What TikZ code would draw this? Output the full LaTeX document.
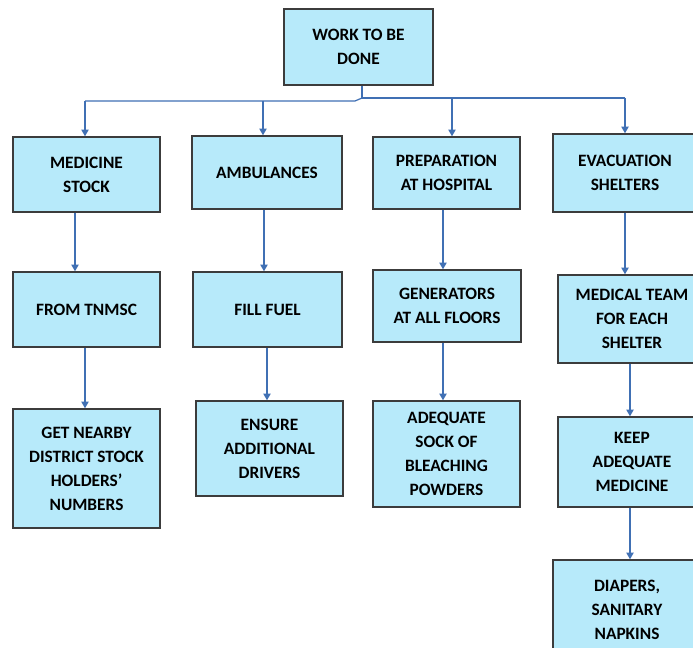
\documentclass[tikz,border=0pt]{standalone}
\usepackage{fontspec}
\setmainfont{Carlito}
\usetikzlibrary{arrows.meta}
\definecolor{boxfill}{RGB}{183,234,250}
\definecolor{boxline}{RGB}{60,60,60}
\definecolor{arrowc}{RGB}{64,112,180}
\newcommand\boxnode[6]{\node[box,minimum width={(#4-#2)*0.75pt},minimum height={(#5-#3)*0.75pt}] (#1) at ({(#2+#4)/2},{(#3+#5)/2}) {#6};}
\begin{document}
\begin{tikzpicture}[x=0.75pt,y=-0.75pt,
  box/.style={draw=boxline,fill=boxfill,line width=1.1pt,align=center,inner sep=0pt,
    font=\fontsize{13}{18}\selectfont\bfseries},
  conn/.style={draw=arrowc,line width=0.9pt},
  arr/.style={conn,-{Triangle[width=5.5pt,length=5pt]}}]
\clip (0,0) rectangle (693,648);
\fill[white] (0,0) rectangle (693,648);
% boxes
\boxnode{top}{284}{9}{433}{85}{WORK TO BE\\DONE}
\boxnode{ms}{13}{137}{160}{212}{MEDICINE\\STOCK}
\boxnode{amb}{192}{136}{342}{209}{AMBULANCES}
\boxnode{prep}{373}{137}{520}{209}{PREPARATION\\AT HOSPITAL}
\boxnode{evac}{553}{134}{697}{212}{EVACUATION\\SHELTERS}
\boxnode{tnmsc}{13}{272}{160}{347}{FROM TNMSC}
\boxnode{fuel}{193}{272}{342}{347}{FILL FUEL}
\boxnode{gen}{373}{270}{521}{342}{GENERATORS\\AT ALL FLOORS}
\boxnode{med}{558}{275}{706}{363}{MEDICAL TEAM\\FOR EACH\\SHELTER}
\boxnode{near}{13}{409}{160}{528}{GET NEARBY\\DISTRICT STOCK\\HOLDERS’\\NUMBERS}
\boxnode{drv}{196}{401}{343}{496}{ENSURE\\ADDITIONAL\\DRIVERS}
\boxnode{bleach}{373}{401}{520}{507}{ADEQUATE\\SOCK OF\\BLEACHING\\POWDERS}
\boxnode{keep}{558}{417}{706}{507}{KEEP\\ADEQUATE\\MEDICINE}
\boxnode{diap}{553}{560}{701}{660}{DIAPERS,\\SANITARY\\NAPKINS}
% bus from top box
\coordinate (bus) at (362,98);
\coordinate (busl) at (355,101);
\draw[conn] (top.south -| bus) -- (bus) -- (bus -| 625,0);
\draw[conn] (bus) -- (busl) -- (busl -| 85,0);
\draw[arr] (busl -| 85,0) -- (85,0 |- ms.north);
\draw[arr] (busl -| 263,0) -- (263,0 |- amb.north);
\draw[arr] (bus -| 452,0) -- (452,0 |- prep.north);
\draw[arr] (bus -| 625,0) -- (625,0 |- evac.north);
% column arrows
\draw[arr] (75,0 |- ms.south) -- (75,0 |- tnmsc.north);
\draw[arr] (85,0 |- tnmsc.south) -- (85,0 |- near.north);
\draw[arr] (264,0 |- amb.south) -- (264,0 |- fuel.north);
\draw[arr] (267,0 |- fuel.south) -- (267,0 |- drv.north);
\draw[arr] (443,0 |- prep.south) -- (443,0 |- gen.north);
\draw[arr] (443,0 |- gen.south) -- (443,0 |- bleach.north);
\draw[arr] (625,0 |- evac.south) -- (625,0 |- med.north);
\draw[arr] (630,0 |- med.south) -- (630,0 |- keep.north);
\draw[arr] (630,0 |- keep.south) -- (630,0 |- diap.north);
\end{tikzpicture}
\end{document}
